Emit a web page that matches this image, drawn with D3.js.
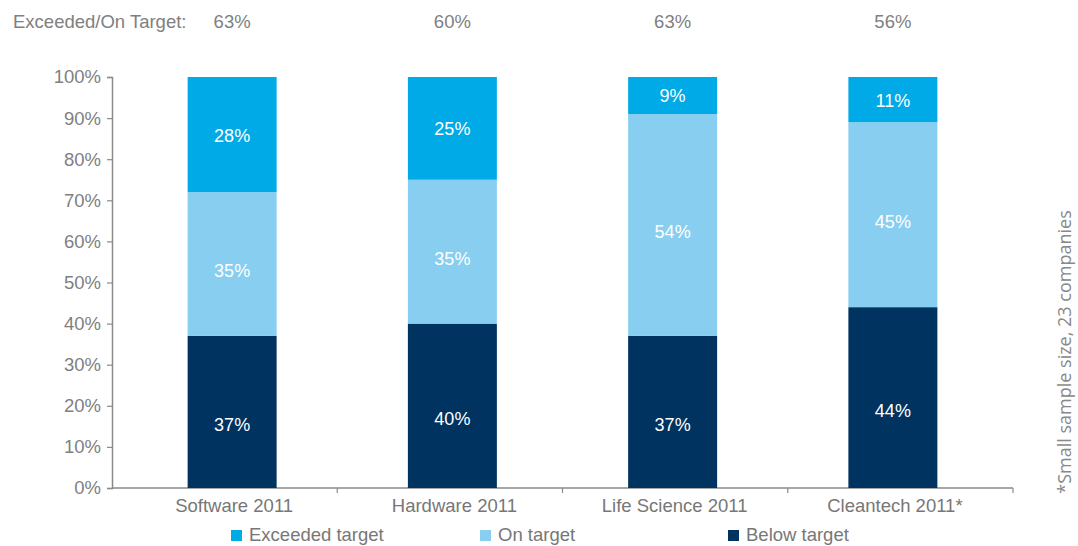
<!DOCTYPE html>
<html>
<head>
<meta charset="utf-8">
<script src="https://cdn.jsdelivr.net/npm/d3@7"></script>
<style>
  body { margin: 0; background: #fff; }
  svg text { font-family: "Liberation Sans", Arial, sans-serif; }
</style>
</head>
<body>
<svg id="chart" width="1078" height="546"></svg>
<script>
// data
const categories = ['Software 2011', 'Hardware 2011', 'Life Science 2011', 'Cleantech 2011*']
const below = [37, 40, 37, 44]
const onTarget = [35, 35, 54, 45]
const exceeded = [28, 25, 9, 11]
const exceededOrOn = [63, 60, 63, 56]
const yTicks = [0, 10, 20, 30, 40, 50, 60, 70, 80, 90, 100]
const seriesNames = ['Exceeded target', 'On target', 'Below target']

let color = {
  'Below target': '#00335f',
  'On target': '#87cef0',
  'Exceeded target': '#00aae6',
}
// label nudges per layer, as the original places them
let labelShift = { 'Below target': 19, 'On target': 13, 'Exceeded target': 7 }

let rows = categories.map(function(c, i) {
  return { cat: c, 'Below target': below[i], 'On target': onTarget[i], 'Exceeded target': exceeded[i] }
})

let svg = d3.select('#chart')

let y = d3.scaleLinear().domain([0, 100]).range([488, 77])
// axis bands and bar bands are slightly offset in the original
let xAxis = d3.scaleBand().domain(categories).range([112, 1013])
let xBar = d3.scaleBand().domain(categories).range([122, 1003])
  .paddingInner(0.596).paddingOuter(0.298)

let stack = d3.stack().keys(['Below target', 'On target', 'Exceeded target'])
let layers = stack(rows)

// y axis
let yAxis = svg.append('g')
  .attr('transform', 'translate(112,0)')
  .call(d3.axisLeft(y).tickValues(yTicks).tickSize(5).tickPadding(6)
    .tickFormat(function(d) { return d + '%' }))
yAxis.select('.domain').attr('stroke', '#8a8a8a').attr('stroke-width', 1.5)
yAxis.selectAll('.tick line').attr('stroke', '#8a8a8a').attr('stroke-width', 1.2)
yAxis.selectAll('.tick text').attr('fill', '#808080').style('font-size', '18.5px')
  .attr('font-family', null)

// x axis: ticks at band edges
let xg = svg.append('g')
xg.append('line')
  .attr('x1', 112).attr('x2', 1013)
  .attr('y1', y(0)).attr('y2', y(0))
  .attr('stroke', '#8a8a8a').attr('stroke-width', 1.5)
xg.selectAll('.xtick')
  .data(categories.slice(1).concat(['end']))
  .enter().append('line')
  .attr('x1', function(d, i) { return i < 3 ? xAxis(d) : xAxis.range()[1] })
  .attr('x2', function(d, i) { return i < 3 ? xAxis(d) : xAxis.range()[1] })
  .attr('y1', y(0)).attr('y2', y(0) + 5)
  .attr('stroke', '#8a8a8a').attr('stroke-width', 1.2)
xg.selectAll('.xlabel')
  .data(categories)
  .enter().append('text')
  .attr('x', function(d) { return xBar(d) + xBar.bandwidth() / 2 + 2 })
  .attr('y', y(0) + 24)
  .attr('text-anchor', 'middle')
  .attr('fill', '#777')
  .style('font-size', '18.5px')
  .text(function(d) { return d })

// bars
let g = svg.selectAll('.layer')
  .data(layers)
  .enter().append('g')
  .attr('class', 'layer')
  .attr('fill', function(d) { return color[d.key] })

g.selectAll('rect')
  .data(function(d) { return d })
  .enter().append('rect')
  .attr('x', function(d) { return xBar(d.data.cat) })
  .attr('width', xBar.bandwidth())
  .attr('y', function(d) { return y(d[1]) })
  .attr('height', function(d) { return y(d[0]) - y(d[1]) })

g.each(function(layer) {
  d3.select(this).selectAll('text')
    .data(layer)
    .enter().append('text')
    .attr('x', function(d) { return xBar(d.data.cat) + xBar.bandwidth() / 2 })
    .attr('y', function(d) { return (y(d[0]) + y(d[1])) / 2 + labelShift[layer.key] })
    .attr('text-anchor', 'middle')
    .attr('fill', '#fff')
    .style('font-size', '18px')
    .text(function(d) { return Math.round(d[1] - d[0]) + '%' })
})

// header row
svg.append('text')
  .attr('x', 13).attr('y', 28)
  .attr('fill', '#808080')
  .style('font-size', '18.5px')
  .text('Exceeded/On Target:')
svg.selectAll('.hdr')
  .data(exceededOrOn)
  .enter().append('text')
  .attr('x', function(d, i) { return xBar(categories[i]) + xBar.bandwidth() / 2 })
  .attr('y', 28)
  .attr('text-anchor', 'middle')
  .attr('fill', '#808080')
  .style('font-size', '18.5px')
  .text(function(d) { return d + '%' })

// legend
let legendX = [231, 480, 728]
let lg = svg.selectAll('.legend')
  .data(seriesNames)
  .enter().append('g')
  .attr('transform', function(d, i) { return 'translate(' + legendX[i] + ',0)' })
lg.append('rect')
  .attr('x', 0).attr('y', 530)
  .attr('width', 11).attr('height', 11)
  .attr('fill', function(d) { return color[d] })
lg.append('text')
  .attr('x', 18).attr('y', 541)
  .attr('fill', '#777')
  .style('font-size', '18.5px')
  .text(function(d) { return d })

// side note
svg.append('text')
  .attr('transform', 'translate(1071,352) rotate(-90)')
  .attr('text-anchor', 'middle')
  .attr('fill', '#888')
  .style('font-family', '"Open Sans", sans-serif')
  .style('font-size', '18px')
  .text('*Small sample size, 23 companies')
</script>
</body>
</html>
